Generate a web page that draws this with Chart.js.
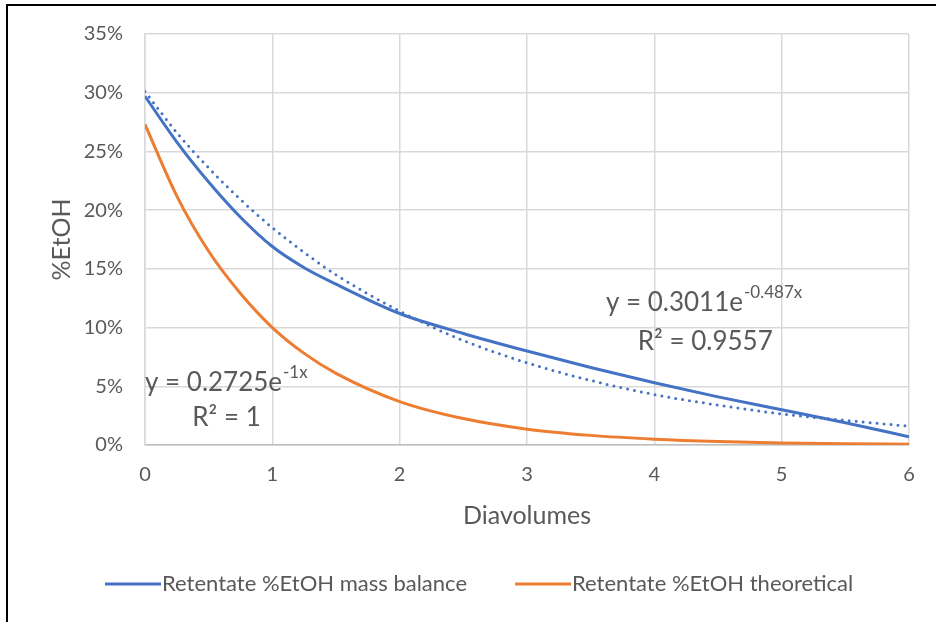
<!DOCTYPE html>
<html>
<head>
<meta charset="utf-8">
<script src="https://cdn.jsdelivr.net/npm/chart.js@4"></script>
<style>
  body { margin: 0; background: #fff; }
  #wrap { position: relative; width: 936px; height: 622px; }
  #frame { position: absolute; left: 6px; top: 4px; width: 940px; height: 640px;
           border-left: 2px solid #000; border-top: 2px solid #000; pointer-events: none; }
</style>
</head>
<body>
<div id="wrap">
  <canvas id="chart" width="936" height="622"></canvas>
  <div id="frame"></div>
</div>
<script>
// Diavolumes (x) and %EtOH readings taken off the reference chart
const diavolumes = [0, 0.25, 0.5, 0.75, 1, 1.25, 1.5, 2, 2.5, 3, 3.5, 4, 4.5, 5, 5.5, 6];
const massBalance = [29.7, 25.8, 22.4, 19.4, 16.9, 15.1, 13.7, 11.2, 9.5, 8.0, 6.6, 5.3, 4.1, 3.0, 1.9, 0.7];
const theoretical = [27.3, 21.2, 16.5, 12.9, 10.0, 7.8, 6.1, 3.7, 2.25, 1.35, 0.82, 0.5, 0.3, 0.18, 0.11, 0.07];
const trendMassBalance = [30.1, 26.6, 23.6, 20.9, 18.5, 16.4, 14.5, 11.4, 8.9, 7.0, 5.5, 4.3, 3.4, 2.65, 2.1, 1.6];

const yTicks = [0, 5, 10, 15, 20, 25, 30, 35];
const seriesLabels = ['Retentate %EtOH mass balance', 'Retentate %EtOH theoretical'];
const equations = [
  { base: 'y = 0.3011e', exp: '-0.487x', r2: 'R² = 0.9557' },
  { base: 'y = 0.2725e', exp: '-1x', r2: 'R² = 1' }
];

const BLUE = '#4472C4';
const ORANGE = '#ED7D31';
const TEXT = '#595959';
const FONT = 'Lato, "Open Sans", sans-serif';

function toPoints(xs, ys) {
  return xs.map((x, i) => ({ x: x, y: ys[i] }));
}

// draws trendline equations and the legend under the axis title
const extrasPlugin = {
  id: 'extras',
  afterDraw(chart) {
    const ctx = chart.ctx;
    const xs = chart.scales.x, ys = chart.scales.y;
    ctx.save();
    ctx.fillStyle = TEXT;
    ctx.textBaseline = 'middle';

    function equation(eq, left, cy) {
      ctx.font = '26px ' + FONT;
      ctx.textAlign = 'left';
      ctx.fillText(eq.base, left, cy);
      const w = ctx.measureText(eq.base).width;
      ctx.font = '17px ' + FONT;
      ctx.fillText(eq.exp, left + w + 1, cy - 10);
    }
    // mass balance trendline label
    equation(equations[0], xs.getPixelForValue(3.62), ys.getPixelForValue(12.1));
    ctx.font = '26px ' + FONT;
    ctx.textAlign = 'center';
    ctx.fillText(equations[0].r2, xs.getPixelForValue(4.4), ys.getPixelForValue(8.8));
    // theoretical trendline label
    equation(equations[1], xs.getPixelForValue(0), ys.getPixelForValue(5.3));
    ctx.font = '26px ' + FONT;
    ctx.textAlign = 'center';
    ctx.fillText(equations[1].r2, xs.getPixelForValue(0.64), ys.getPixelForValue(2.3));

    // legend
    const colors = [BLUE, ORANGE];
    const starts = [105, 515];
    const ly = 584;
    ctx.font = '22px ' + FONT;
    ctx.textAlign = 'left';
    seriesLabels.forEach((lab, i) => {
      ctx.strokeStyle = colors[i];
      ctx.lineWidth = 3;
      ctx.beginPath();
      ctx.moveTo(starts[i], ly);
      ctx.lineTo(starts[i] + 56, ly);
      ctx.stroke();
      ctx.fillText(lab, starts[i] + 57, ly);
    });
    ctx.restore();
  }
};

const ctx = document.getElementById('chart').getContext('2d');
new Chart(ctx, {
  type: 'line',
  data: {
    datasets: [
      {
        label: 'Expon. (' + seriesLabels[0] + ')',
        data: toPoints(diavolumes, trendMassBalance),
        borderColor: BLUE,
        borderWidth: 3,
        borderDash: [0, 7],
        borderCapStyle: 'round',
        pointRadius: 0,
        cubicInterpolationMode: 'monotone',
        order: 0
      },
      {
        label: seriesLabels[0],
        data: toPoints(diavolumes, massBalance),
        borderColor: BLUE,
        borderWidth: 3,
        pointRadius: 0,
        cubicInterpolationMode: 'monotone',
        order: 1
      },
      {
        label: seriesLabels[1],
        data: toPoints(diavolumes, theoretical),
        borderColor: ORANGE,
        borderWidth: 3,
        pointRadius: 0,
        cubicInterpolationMode: 'monotone',
        order: 2
      }
    ]
  },
  options: {
    responsive: false,
    animation: false,
    events: [],
    layout: { padding: { left: 0, top: 34, right: 27, bottom: 91 } },
    plugins: { legend: { display: false }, tooltip: { enabled: false } },
    scales: {
      x: {
        type: 'linear',
        min: 0,
        max: 6,
        ticks: { stepSize: 1, color: TEXT, font: { family: FONT, size: 20 }, padding: 18 },
        grid: { color: '#d9d9d9', lineWidth: 1.5, drawTicks: false },
        border: { color: '#bfbfbf', width: 1.5 },
        title: { display: true, text: 'Diavolumes', color: TEXT, font: { family: FONT, size: 25 }, padding: 0 },
        afterFit(scale) { scale.height = 86; }
      },
      y: {
        min: 0,
        max: 35,
        afterBuildTicks(scale) { scale.ticks = yTicks.map(v => ({ value: v })); },
        ticks: { color: TEXT, font: { family: FONT, size: 20 }, padding: 22, callback: v => v + '%' },
        grid: { color: '#d9d9d9', lineWidth: 1.5, drawTicks: false },
        border: { color: '#d9d9d9', width: 1.5 },
        title: { display: true, text: '%EtOH', color: TEXT, font: { family: FONT, size: 25 }, padding: { top: 47 } },
        afterFit(scale) { scale.width = 145; }
      }
    }
  },
  plugins: [extrasPlugin]
});
</script>
</body>
</html>
